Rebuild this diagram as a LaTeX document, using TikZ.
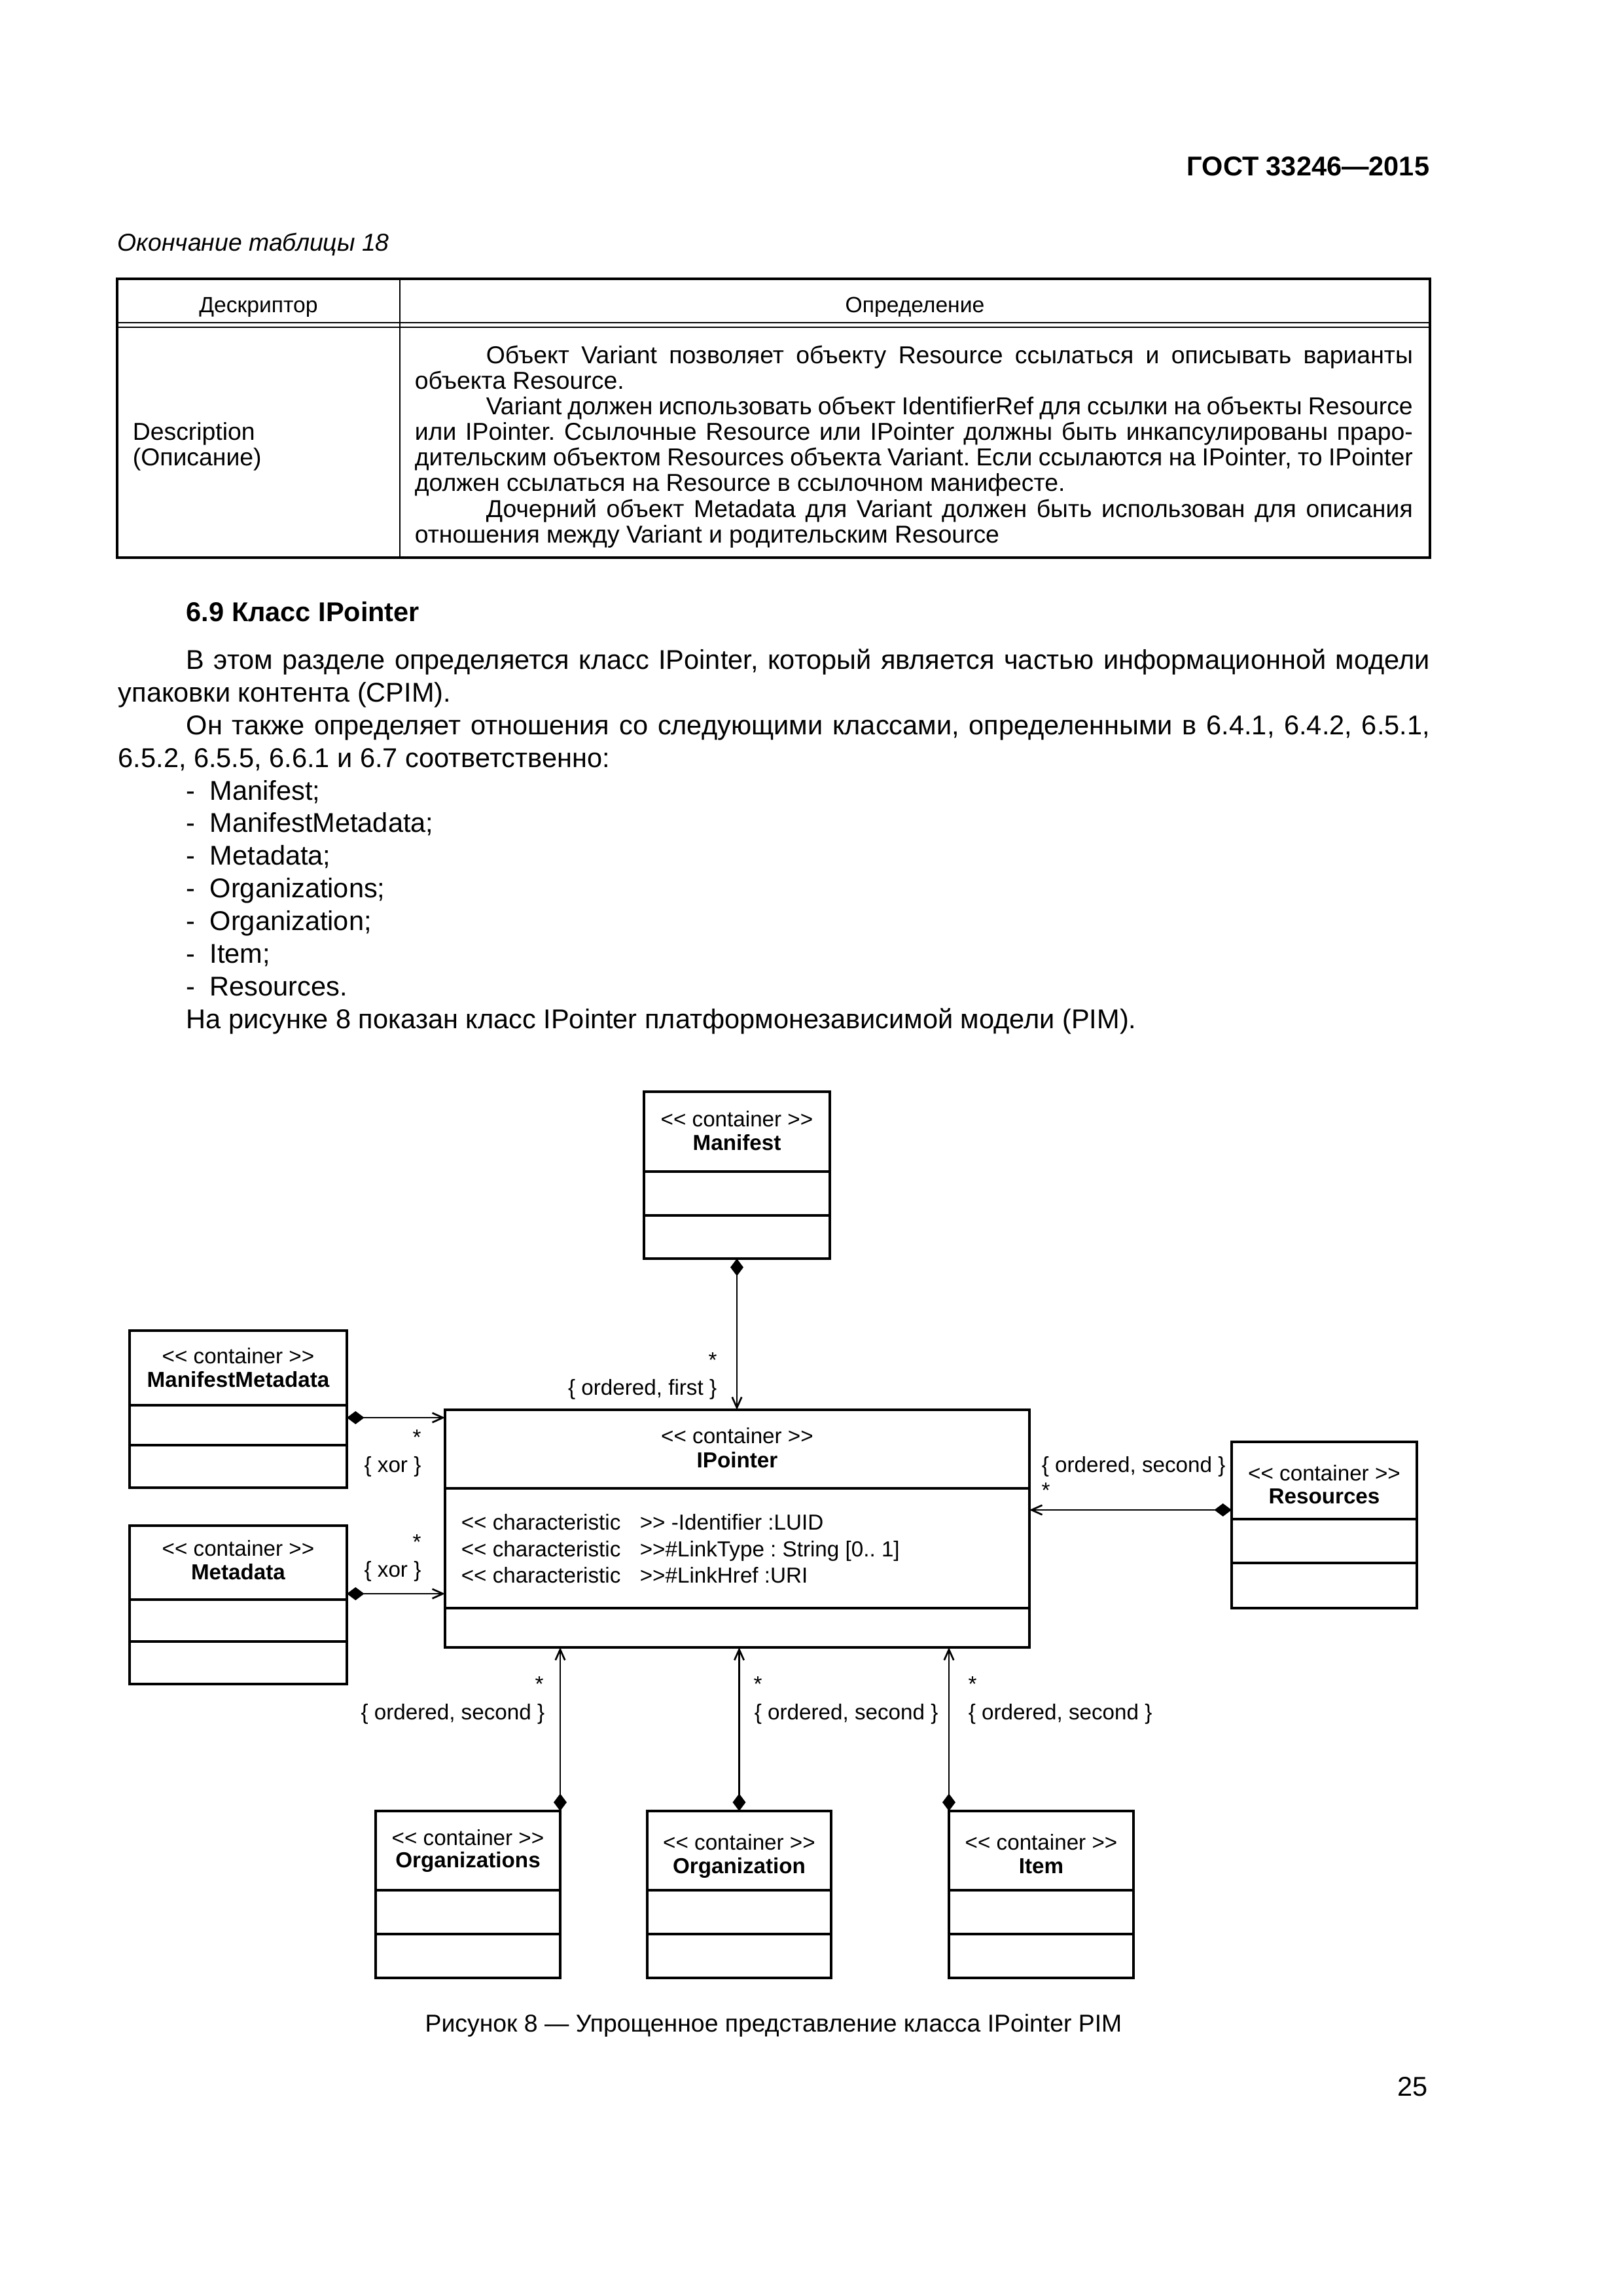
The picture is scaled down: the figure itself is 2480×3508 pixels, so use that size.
\documentclass[tikz,border=0pt]{standalone}
\usepackage{fontspec}
\setmainfont{Liberation Sans}
\usetikzlibrary{arrows.meta,fit,calc}
\newdimen\pxu \pxu=0.24091pt
\newcommand\dblL{<\kern0pt<}
\newcommand\dblR{>\kern0pt>}
\newcommand\fbody{\fontsize{10}{12}\selectfont}
\newcommand\fsmall{\fontsize{9}{10.8}\selectfont}
\newcommand\ftab{\fontsize{9}{9.4}\selectfont}
\newcommand\fhead{\fontsize{8.1}{9.4}\selectfont}
\newcommand\fdia{\fontsize{8}{9.6}\selectfont}
\newcommand\jfull[2]{\hbox to #1\pxu{#2}}
\newcommand\compart[3]{%
  \draw[sep] ($(#1.north west)+(0,#2)$) -- ($(#1.north east)+(0,#2)$);%
  \draw[sep] ($(#1.north west)+(0,#3)$) -- ($(#1.north east)+(0,#3)$);}
\frenchspacing
\begin{document}
\begin{tikzpicture}[x=0.24091pt,y=-0.24091pt,
  every node/.style={inner sep=0pt},
  btext/.style={anchor=base west,font=\fbody},
  ttext/.style={anchor=base west,font=\ftab},
  dtext/.style={anchor=base,font=\fdia},
  cls/.style={draw,line width=0.75pt,inner sep=0pt,outer sep=0pt},
  sep/.style={line width=0.75pt},
  comp/.style={line width=0.65pt,{Diamond[length=6.4pt,width=4.8pt]}-{Straight Barb[length=3.9pt,width=3.5pt]}},
  tframe/.style={line width=0.75pt},
  tline/.style={line width=0.7pt}]
\fill[white] (0,0) rectangle (2480,3508);
\useasboundingbox (0,0) rectangle (2480,3508);

% page header
\node[anchor=base east,font=\fbody\bfseries] (gost) at (2185,268) {ГОСТ 33246—2015};
\node[anchor=base west,font=\fsmall\itshape] (tcont) at (179,383) {Окончание таблицы 18};

% table
\node[draw,tframe,inner sep=0pt,outer sep=0pt,fit={(179,426) (2185,852)}] (tab) {};
\draw[tline] (611,426) -- (611,852);
\draw[tline] (179,493) -- (2185,493);
\draw[tline] (179,500) -- (2185,500);
\node[anchor=base,font=\fhead] (th1) at (395,477) {Дескриптор};
\node[anchor=base,font=\fhead] (th2) at (1398,477) {Определение};
\node[ttext] (d1) at (202,672) {Description};
\node[ttext] (d2) at (202,711) {(Описание)};
\node[ttext] (t1) at (633,555) {\jfull{1525}{\hskip109\pxu Объект Variant позволяет объекту Resource ссылаться и описывать варианты}};
\node[ttext] (t2) at (633,594) {объекта Resource.};
\node[ttext] (t3) at (633,633) {\jfull{1525}{\hskip109\pxu Variant должен использовать объект IdentifierRef для ссылки на объекты Resource}};
\node[ttext] (t4) at (633,672) {\jfull{1525}{или IPointer. Ссылочные Resource или IPointer должны быть инкапсулированы праро-}};
\node[ttext] (t5) at (633,711) {\jfull{1525}{дительским объектом Resources объекта Variant. Если ссылаются на IPointer, то IPointer}};
\node[ttext] (t6) at (633,750) {должен ссылаться на Resource в ссылочном манифесте.};
\node[ttext] (t7) at (633,790) {\jfull{1525}{\hskip109\pxu Дочерний объект Metadata для Variant должен быть использован для описания}};
\node[ttext] (t8) at (633,829) {отношения между Variant и родительским Resource};

% section text
\node[btext,font=\fbody\bfseries] (sec) at (284,949) {6.9 Класс IPointer};
\node[btext] (p1) at (284,1022) {\jfull{1900}{В этом разделе определяется класс IPointer, который является частью информационной модели}};
\node[btext] (p2) at (180,1072) {упаковки контента (CPIM).};
\node[btext] (p3) at (284,1122) {\jfull{1900}{Он также определяет отношения со следующими классами, определенными в 6.4.1, 6.4.2, 6.5.1,}};
\node[btext] (p4) at (180,1172) {6.5.2, 6.5.5, 6.6.1 и 6.7 соответственно:};
\node[btext] (l1) at (284,1222) {\makebox[36\pxu][l]{-}Manifest;};
\node[btext] (l2) at (284,1271) {\makebox[36\pxu][l]{-}ManifestMetadata;};
\node[btext] (l3) at (284,1321) {\makebox[36\pxu][l]{-}Metadata;};
\node[btext] (l4) at (284,1371) {\makebox[36\pxu][l]{-}Organizations;};
\node[btext] (l5) at (284,1421) {\makebox[36\pxu][l]{-}Organization;};
\node[btext] (l6) at (284,1471) {\makebox[36\pxu][l]{-}Item;};
\node[btext] (l7) at (284,1521) {\makebox[36\pxu][l]{-}Resources.};
\node[btext] (p5) at (284,1571) {На рисунке 8 показан класс IPointer платформонезависимой модели (PIM).};

% classes
\node[cls,fit={(984,1668) (1268,1923)}] (manifest) {};
\compart{manifest}{122}{189}
\node[dtext] (manifest-s) at (1126,1721) {\dblL{} container \dblR};
\node[dtext,font=\fdia\bfseries] (manifest-n) at (1126,1757) {Manifest};

\node[cls,fit={(198,2033) (530,2273)}] (mm) {};
\compart{mm}{114}{175}
\node[dtext] (mm-s) at (364,2083) {\dblL{} container \dblR};
\node[dtext,font=\fdia\bfseries] (mm-n) at (364,2119) {ManifestMetadata};

\node[cls,fit={(198,2331) (530,2573)}] (md) {};
\compart{md}{113}{177}
\node[dtext] (md-s) at (364,2377) {\dblL{} container \dblR};
\node[dtext,font=\fdia\bfseries] (md-n) at (364,2413) {Metadata};

\node[cls,fit={(680,2154) (1573,2517)}] (ipointer) {};
\compart{ipointer}{120}{303}
\node[dtext] (ip-s) at (1126.5,2205) {\dblL{} container \dblR};
\node[dtext,font=\fdia\bfseries] (ip-n) at (1126.5,2242) {IPointer};
\node[dtext,anchor=base west] (a1) at (704,2337) {\dblL{} characteristic};
\node[dtext,anchor=base west] (a2) at (704,2378) {\dblL{} characteristic};
\node[dtext,anchor=base west] (a3) at (704,2418) {\dblL{} characteristic};
\node[dtext,anchor=base west] (b1) at (977,2337) {\dblR{} -Identifier :LUID};
\node[dtext,anchor=base west] (b2) at (977,2378) {\dblR\#LinkType : String [0.. 1]};
\node[dtext,anchor=base west] (b3) at (977,2418) {\dblR\#LinkHref :URI};

\node[cls,fit={(1882,2203) (2165,2457)}] (res) {};
\compart{res}{118}{185}
\node[dtext] (res-s) at (2023.5,2262) {\dblL{} container \dblR};
\node[dtext,font=\fdia\bfseries] (res-n) at (2023.5,2297) {Resources};

\node[cls,fit={(574,2767) (856,3022)}] (orgs) {};
\compart{orgs}{121}{188}
\node[dtext] (orgs-s) at (715,2819) {\dblL{} container \dblR};
\node[dtext,font=\fdia\bfseries] (orgs-n) at (715,2853) {Organizations};

\node[cls,fit={(989,2767) (1270,3022)}] (org) {};
\compart{org}{121}{188}
\node[dtext] (org-s) at (1129.5,2826) {\dblL{} container \dblR};
\node[dtext,font=\fdia\bfseries] (org-n) at (1129.5,2862) {Organization};

\node[cls,fit={(1450,2767) (1732,3022)}] (item) {};
\compart{item}{121}{188}
\node[dtext] (item-s) at (1591,2826) {\dblL{} container \dblR};
\node[dtext,font=\fdia\bfseries] (item-n) at (1591,2862) {Item};

% connectors
\draw[comp] (manifest.south) -- (manifest.south |- ipointer.north);
\coordinate (mmp) at ($(mm.north east)+(0,133)$);
\draw[comp] (mmp) -- (mmp -| ipointer.west);
\coordinate (mdp) at ($(md.north east)+(0,104)$);
\draw[comp] (mdp) -- (mdp -| ipointer.west);
\coordinate (rsp) at ($(res.north west)+(0,104)$);
\draw[comp] (rsp) -- (rsp -| ipointer.east);
\draw[comp] (orgs.north east) -- (orgs.north east |- ipointer.south);
\draw[comp] (org.north) -- (org.north |- ipointer.south);
\draw[comp] (item.north west) -- (item.north west |- ipointer.south);

% connector labels
\node[dtext] (m-star) at (1089,2089) {*};
\node[dtext,anchor=base east] (m-lab) at (1096,2131) {\{ ordered, first \}};
\node[dtext] (mm-star) at (637,2207) {*};
\node[dtext] (mm-lab) at (600,2249) {\{ xor \}};
\node[dtext] (md-star) at (637,2367) {*};
\node[dtext] (md-lab) at (600,2409) {\{ xor \}};
\node[dtext,anchor=base west] (res-lab) at (1591,2249) {\{ ordered, second \}};
\node[dtext] (res-star) at (1598,2288) {*};
\node[dtext] (orgs-star) at (824,2584) {*};
\node[dtext,anchor=base east] (orgs-lab) at (833,2627) {\{ ordered, second \}};
\node[dtext] (org-star) at (1158,2584) {*};
\node[dtext,anchor=base west] (org-lab) at (1152,2627) {\{ ordered, second \}};
\node[dtext] (item-star) at (1486,2584) {*};
\node[dtext,anchor=base west] (item-lab) at (1479,2627) {\{ ordered, second \}};

% caption and page number
\node[anchor=base,font=\fsmall] (cap) at (1182,3104) {Рисунок 8 — Упрощенное представление класса IPointer PIM};
\node[anchor=base east,font=\fbody] (pnum) at (2182,3202) {25};
\end{tikzpicture}
\end{document}
